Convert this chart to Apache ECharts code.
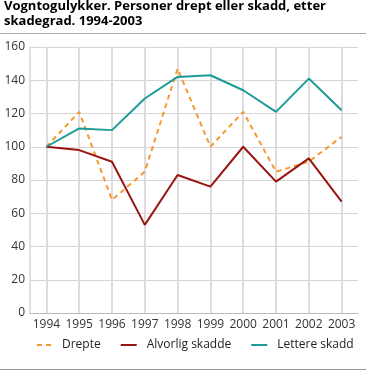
<!DOCTYPE html>
<html><head><meta charset="utf-8">
<script src="https://cdn.jsdelivr.net/npm/echarts@6/dist/echarts.min.js"></script>
<style>html,body{margin:0;padding:0;background:#fff}#c{width:366px;height:373px}</style>
</head><body><div id="c"></div>
<script>
var years = ['1994','1995','1996','1997','1998','1999','2000','2001','2002','2003'];
var drepte = [100, 121, 68, 85, 147, 100, 121, 85, 91, 106];
var alvorlig = [100, 98, 91, 53, 83, 76, 100, 79, 93, 67];
var lettere = [100, 111, 110, 129, 142, 143, 134, 121, 141, 122];
var seriesNames = ['Drepte', 'Alvorlig skadde', 'Lettere skadd'];
var titleText = 'Vogntogulykker. Personer drept eller skadd, etter\nskadegrad. 1994-2003';

var chart = echarts.init(document.getElementById('c'), null, {renderer: 'canvas'});
var font = 'Open Sans';
var gridColor = '#d6d6d6';
var clear = 'rgba(255,255,255,0)';
var cOrange = '#f7982e', cRed = '#9a1512', cTeal = '#1c9c98';
var W = 366, gl = 30, gr = 8;
var half = (W - gl - gr) / years.length / 2;
chart.setOption({
  animation: false,
  textStyle: {fontFamily: font},
  title: {text: titleText, left: 4, top: -1, padding: 0, textStyle: {fontFamily: font, fontSize: 13, fontWeight: 'bold', color: '#000', lineHeight: 15}},
  graphic: [
    {type: 'line', shape: {x1: 0, y1: 33.5, x2: 366, y2: 33.5}, style: {stroke: '#aaa', lineWidth: 1}},
    {type: 'line', shape: {x1: 0, y1: 369.5, x2: 366, y2: 369.5}, style: {stroke: '#999', lineWidth: 1}}
  ],
  grid: [
    {left: gl, right: gr, top: 47, bottom: 60},
    {left: gl + half, right: gr + half, top: 47, bottom: 60}
  ],
  legend: {
    top: 339, left: 37, width: 329, itemWidth: 16, itemHeight: 2, itemGap: 20, padding: 0,
    textStyle: {fontFamily: font, fontSize: 12, color: '#222', padding: [0,0,0,5]},
    data: [
      {name: seriesNames[0], icon: 'path://M0,0h5v2h-5z M9,0h5v2h-5z', itemStyle: {color: cOrange}},
      {name: seriesNames[1], icon: 'rect', itemStyle: {color: cRed}},
      {name: seriesNames[2], icon: 'rect', itemStyle: {color: cTeal}}
    ]
  },
  xAxis: [{
    type: 'category', data: years, boundaryGap: true, gridIndex: 0,
    axisLine: {lineStyle: {color: '#bbb'}},
    axisTick: {show: true, lineStyle: {color: clear}},
    axisLabel: {color: '#333', fontSize: 12, margin: 6, interval: 0},
    splitLine: {show: false}
  }, {
    type: 'category', data: years, boundaryGap: false, gridIndex: 1,
    axisLine: {lineStyle: {color: clear}},
    axisTick: {interval: 0, lineStyle: {color: clear}},
    axisLabel: {interval: 0, color: clear},
    splitLine: {show: true, interval: 0, lineStyle: {color: '#dcdcdc', width: 2}}
  }],
  yAxis: [{
    type: 'value', min: 0, max: 160, interval: 20, gridIndex: 0,
    axisLine: {show: true, lineStyle: {color: gridColor, width: 1.5}},
    axisTick: {show: false},
    axisLabel: {color: '#333', fontSize: 12, margin: 5},
    splitLine: {lineStyle: {color: gridColor, width: 1}}
  }, {
    type: 'value', min: 0, max: 160, interval: 20, gridIndex: 1,
    axisLine: {show: false}, axisTick: {show: false}, axisLabel: {color: clear},
    splitLine: {show: false}
  }],
  series: [
    {name: seriesNames[0], type: 'line', data: drepte, xAxisIndex: 0, yAxisIndex: 0, symbol: 'none', color: cOrange, z: 3, lineStyle: {width: 2, type: [5, 4], color: cOrange}},
    {name: seriesNames[1], type: 'line', data: alvorlig, xAxisIndex: 1, yAxisIndex: 1, symbol: 'none', color: cRed, z: 3, lineStyle: {width: 2, color: cRed}},
    {name: seriesNames[2], type: 'line', data: lettere, xAxisIndex: 1, yAxisIndex: 1, symbol: 'none', color: cTeal, z: 3, lineStyle: {width: 2, color: cTeal}}
  ]
});
</script></body></html>
